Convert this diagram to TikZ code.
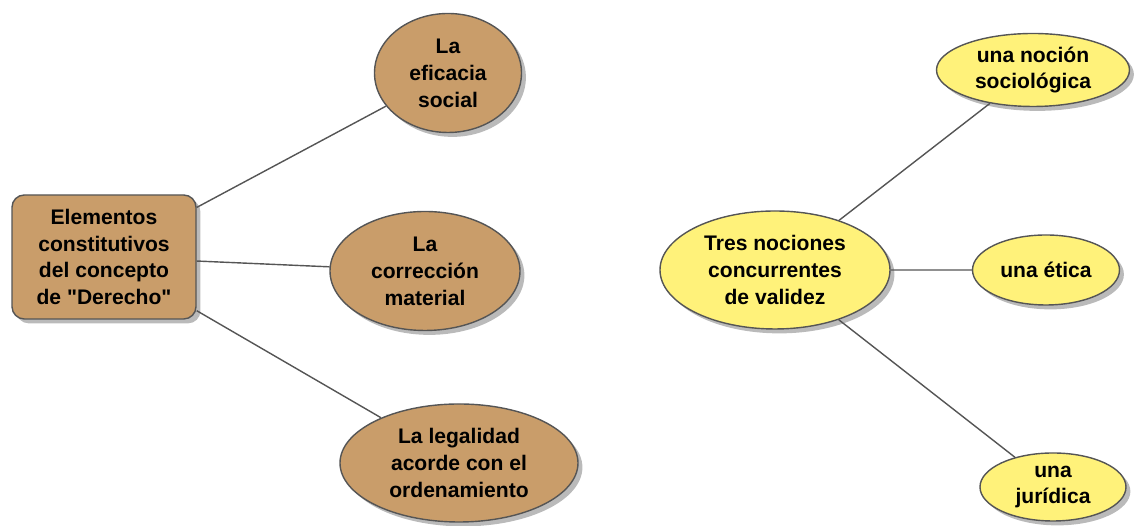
\documentclass[tikz,border=0pt]{standalone}
\usepackage{fontspec}
\setmainfont{Liberation Sans}[Ligatures=TeXOff]
\usetikzlibrary{shapes.geometric,shadows}
\definecolor{tan}{RGB}{201,157,106}
\definecolor{lemon}{RGB}{255,242,122}
\definecolor{edge}{RGB}{85,85,85}
\tikzset{
    base/.style={draw=edge, line width=0.8pt, align=center, inner sep=0pt,
        font=\fontsize{12}{15.3}\selectfont\bfseries,
        drop shadow={shadow xshift=2.5pt, shadow yshift=-2.5pt, fill=black!45, opacity=0.6}},
    box/.style={base, rectangle, rounded corners=7pt, fill=tan},
    brown/.style={base, ellipse, fill=tan},
    yellow/.style={base, ellipse, fill=lemon}
}
\begin{document}
\begin{tikzpicture}
    \useasboundingbox (0, 0) rectangle (22.68, 10.52);
    \draw
        node (1) [box, minimum width=3.68cm, minimum height=2.48cm] at (2.08, 5.38)
            {Elementos\\constitutivos\\del concepto\\de "Derecho"}
        node (2) [brown, minimum width=2.94cm, minimum height=2.38cm] at (8.96, 9.06)
            {La\\eficacia\\social}
        node (3) [brown, minimum width=3.80cm, minimum height=2.38cm] at (8.50, 5.10)
            {La\\corrección\\material}
        node (4) [brown, minimum width=4.76cm, minimum height=2.36cm] at (9.18, 1.26)
            {La legalidad\\acorde con el\\ordenamiento}
        node (5) [yellow, minimum width=4.60cm, minimum height=2.36cm] at (15.50, 5.12)
            {Tres nociones\\concurrentes\\de validez}
        node (6) [yellow, minimum width=3.86cm, minimum height=1.46cm] at (20.66, 9.12)
            {una noción\\sociológica}
        node (7) [yellow, minimum width=2.94cm, minimum height=1.40cm] at (20.92, 5.12)
            {una ética}
        node (8) [yellow, minimum width=2.92cm, minimum height=1.36cm] at (21.06, 0.78)
            {una\\jurídica}
    ;
    \draw
        [edge, line width=0.8pt]
        (1) -- (2)
        (1) -- (3)
        (1) -- (4)
        (5) -- (6)
        (5) -- (7)
        (5) -- (8)
    ;
\end{tikzpicture}
\end{document}
